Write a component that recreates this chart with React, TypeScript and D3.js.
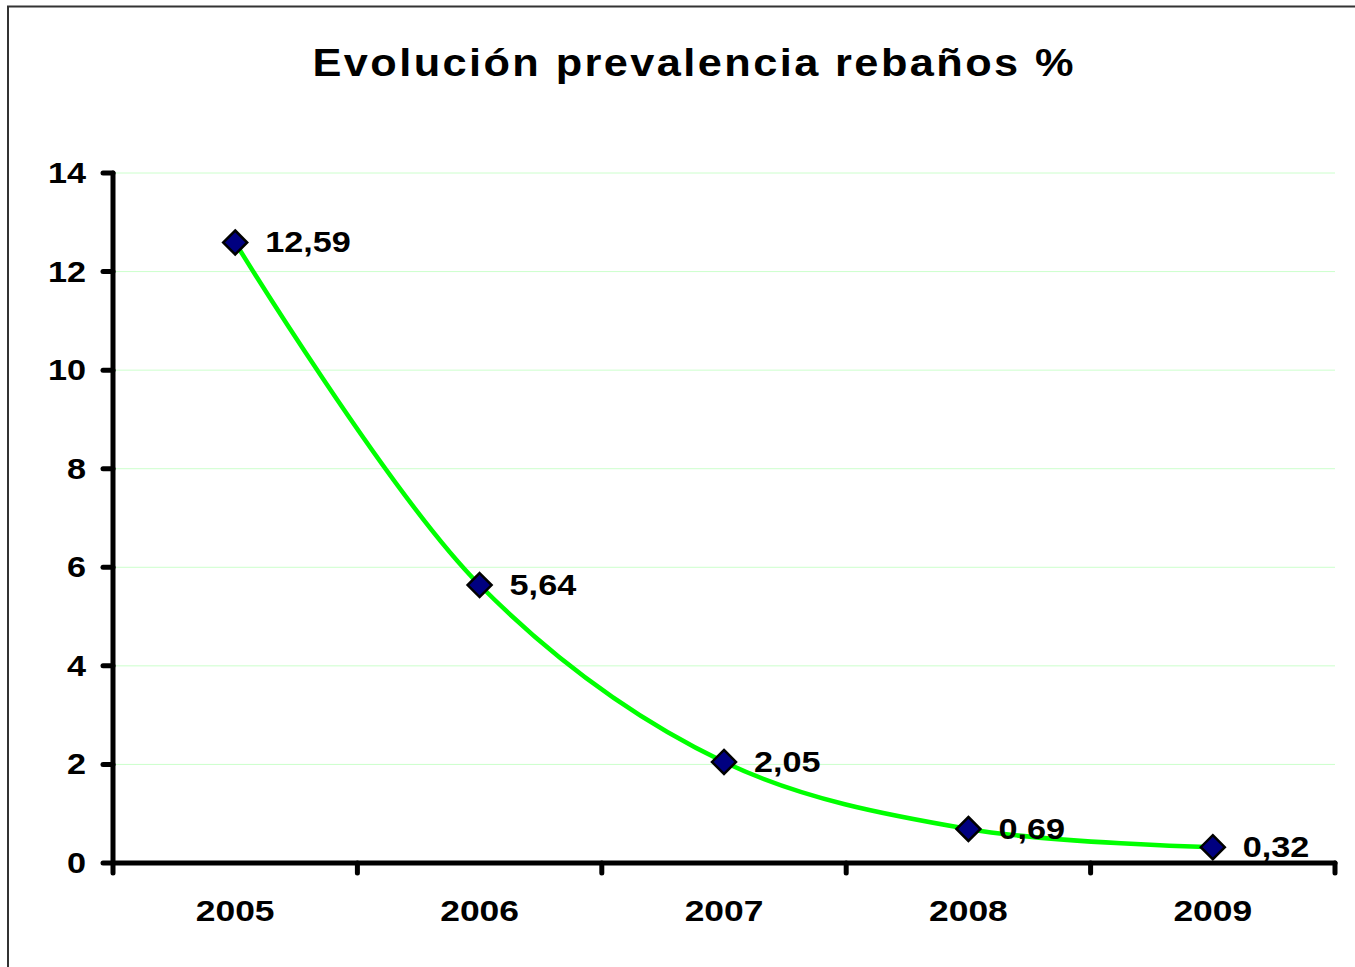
import React from "react";
import * as d3 from "d3";

const years = ["2005", "2006", "2007", "2008", "2009"];
const prevalence = [12.59, 5.64, 2.05, 0.69, 0.32];
const labels = ["12,59", "5,64", "2,05", "0,69", "0,32"];
const yTicks = [0, 2, 4, 6, 8, 10, 12, 14];

const W = 1355;
const H = 967;
const left = 113;
const right = 1335;
const top = 173;
const bottom = 863;
const font = "'Liberation Sans', Arial, sans-serif";
// the original text is drawn a bit wider than the font's own proportions
const stretch = 1.18;
const titleStretch = 1.14;

export default function App() {
  const x = d3.scaleBand().domain(years).range([left, right]).padding(0);
  const y = d3.scaleLinear().domain([0, 14]).range([bottom, top]);

  const pts: [number, number][] = years.map((yr, i) => [
    x(yr)! + x.bandwidth() / 2,
    y(prevalence[i]),
  ]);
  const path = d3.line().curve(d3.curveCatmullRom.alpha(0.5))(pts);

  const bounds = years.map((yr) => x(yr)!).concat([right]);

  return (
    <svg
      width={W}
      height={H}
      style={{ position: "absolute", left: 0, top: 0, background: "white" }}
    >
      {/* chart area frame, right/bottom fall outside the picture */}
      <rect x={8} y={6.5} width={W + 20} height={H + 20} fill="white" stroke="#333" strokeWidth={2} />

      <g transform={`translate(693,76) scale(${titleStretch},1)`}>
        <text
          textAnchor="middle"
          fontFamily={font}
          fontWeight="bold"
          fontSize={38}
          textLength={761 / titleStretch}
          lengthAdjust="spacing"
        >
          Evolución prevalencia rebaños %
        </text>
      </g>

      {/* gridlines */}
      {yTicks.filter((t) => t > 0).map((t) => (
        <line key={t} x1={left} x2={right} y1={y(t)} y2={y(t)} stroke="#ccffcc" strokeWidth={1} />
      ))}

      {/* y axis */}
      <line x1={left} x2={left} y1={top} y2={bottom} stroke="black" strokeWidth={5} strokeLinecap="round" />
      {yTicks.map((t) => (
        <g key={t}>
          <line x1={left - 10} x2={left} y1={y(t)} y2={y(t)} stroke="black" strokeWidth={5} strokeLinecap="round" />
          <g transform={`translate(86,${y(t) + 10}) scale(${stretch},1)`}>
            <text textAnchor="end" fontFamily={font} fontWeight="bold" fontSize={29}>
              {t}
            </text>
          </g>
        </g>
      ))}

      {/* x axis */}
      <line x1={left} x2={right} y1={bottom} y2={bottom} stroke="black" strokeWidth={5} strokeLinecap="round" />
      {bounds.map((b, i) => (
        <line key={i} x1={b} x2={b} y1={bottom} y2={bottom + 10} stroke="black" strokeWidth={5} strokeLinecap="round" />
      ))}
      {years.map((yr) => (
        <g key={yr} transform={`translate(${x(yr)! + x.bandwidth() / 2},921) scale(${stretch},1)`}>
          <text textAnchor="middle" fontFamily={font} fontWeight="bold" fontSize={30}>
            {yr}
          </text>
        </g>
      ))}

      <path d={path ?? ""} fill="none" stroke="#00ff00" strokeWidth={4.5} />

      {pts.map(([px, py], i) => (
        <g key={i}>
          <path
            d={`M${px},${py - 12}L${px + 12},${py}L${px},${py + 12}L${px - 12},${py}Z`}
            fill="#000080"
            stroke="black"
            strokeWidth={2.5}
          />
          <g transform={`translate(${px + 30},${py + 10}) scale(${stretch},1)`}>
            <text fontFamily={font} fontWeight="bold" fontSize={29}>
              {labels[i]}
            </text>
          </g>
        </g>
      ))}
    </svg>
  );
}
